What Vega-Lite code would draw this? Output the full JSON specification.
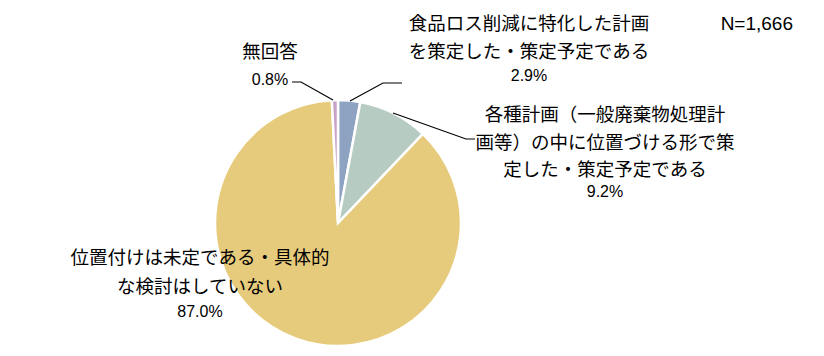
{
  "$schema": "https://vega.github.io/schema/vega-lite/v6.json",
  "width": 676,
  "height": 262,
  "autosize": {"type": "none"},
  "padding": {"left": 0, "top": 92, "right": 148, "bottom": 2},
  "background": "white",
  "config": {"view": {"stroke": null}, "font": "Noto Sans CJK JP"},
  "title": {"text": "N=1,666", "anchor": "end", "frame": "group", "dx": 117, "dy": 28, "offset": 0, "baseline": "middle", "font": "Liberation Sans", "fontSize": 19, "fontWeight": "normal", "color": "#000"},
  "data": {
    "values": [
      {"rank": 1, "name": "食品ロス削減に特化した計画\nを策定した・策定予定である", "share": 0.029},
      {"rank": 2, "name": "各種計画（一般廃棄物処理計\n画等）の中に位置づける形で策\n定した・策定予定である", "share": 0.092},
      {"rank": 3, "name": "位置付けは未定である・具体的\nな検討はしていない", "share": 0.870},
      {"rank": 4, "name": "無回答", "share": 0.008}
    ]
  },
  "layer": [
    {
      "mark": {"type": "arc", "outerRadius": 123, "stroke": "white", "strokeWidth": 2.5},
      "encoding": {
        "theta": {"field": "share", "type": "quantitative", "stack": true},
        "order": {"field": "rank", "type": "quantitative"},
        "color": {"field": "rank", "type": "nominal", "scale": {"domain": [1, 2, 3, 4], "range": ["#8DA3C1", "#B6CBC2", "#E7CB7D", "#C9A2C8"]}, "legend": null}
      }
    },
    {
      "transform": [{"filter": "datum.rank != 3"}],
      "mark": {"type": "point", "filled": false, "size": 4, "strokeWidth": 1.2, "color": "#000", "opacity": 1},
      "encoding": {
        "shape": {"field": "rank", "type": "nominal", "scale": {"domain": [1, 2, 4], "range": ["M12,-122L45,-140L64,-140", "M55,-110L128,-84L137,-84", "M-5,-123L-37,-141L-46,-141"]}, "legend": null}
      }
    },
    {
      "transform": [{"filter": "datum.rank == 1"}],
      "layer": [
        {"mark": {"type": "text", "dx": 191, "dy": -199, "lineBreak": "\n", "lineHeight": 28, "fontSize": 18.5, "align": "center", "baseline": "middle", "color": "#000"}, "encoding": {"text": {"field": "name", "type": "nominal"}}},
        {"mark": {"type": "text", "dx": 191, "dy": -147, "font": "Liberation Sans", "fontSize": 16, "align": "center", "baseline": "middle", "color": "#000"}, "encoding": {"text": {"field": "share", "type": "quantitative", "format": ".1%"}}}
      ]
    },
    {
      "transform": [{"filter": "datum.rank == 2"}],
      "layer": [
        {"mark": {"type": "text", "dx": 267, "dy": -108, "lineBreak": "\n", "lineHeight": 27.5, "fontSize": 18.5, "align": "center", "baseline": "middle", "color": "#000"}, "encoding": {"text": {"field": "name", "type": "nominal"}}},
        {"mark": {"type": "text", "dx": 267, "dy": -31, "font": "Liberation Sans", "fontSize": 16, "align": "center", "baseline": "middle", "color": "#000"}, "encoding": {"text": {"field": "share", "type": "quantitative", "format": ".1%"}}}
      ]
    },
    {
      "transform": [{"filter": "datum.rank == 3"}],
      "layer": [
        {"mark": {"type": "text", "dx": -138, "dy": 35, "lineBreak": "\n", "lineHeight": 29, "fontSize": 18.5, "align": "center", "baseline": "middle", "color": "#000"}, "encoding": {"text": {"field": "name", "type": "nominal"}}},
        {"mark": {"type": "text", "dx": -138, "dy": 89, "font": "Liberation Sans", "fontSize": 16, "align": "center", "baseline": "middle", "color": "#000"}, "encoding": {"text": {"field": "share", "type": "quantitative", "format": ".1%"}}}
      ]
    },
    {
      "transform": [{"filter": "datum.rank == 4"}],
      "layer": [
        {"mark": {"type": "text", "dx": -68, "dy": -171, "lineBreak": "\n", "lineHeight": 28, "fontSize": 18.5, "align": "center", "baseline": "middle", "color": "#000"}, "encoding": {"text": {"field": "name", "type": "nominal"}}},
        {"mark": {"type": "text", "dx": -68, "dy": -143, "font": "Liberation Sans", "fontSize": 16, "align": "center", "baseline": "middle", "color": "#000"}, "encoding": {"text": {"field": "share", "type": "quantitative", "format": ".1%"}}}
      ]
    }
  ]
}
